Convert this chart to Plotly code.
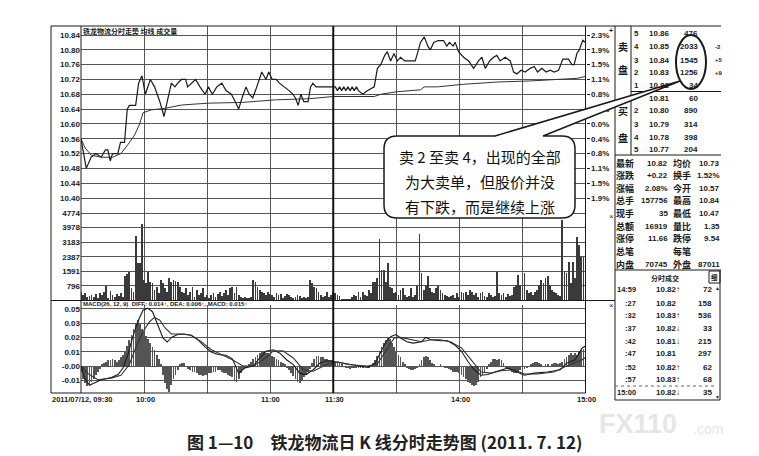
import plotly.graph_objects as go

W, H = 759, 456
NUM_FONT = "Liberation Sans, Arial, sans-serif"
CJK_FONT = "Noto Sans CJK SC, sans-serif"
INK = "#1a1a1a"
GRID = "#555555"

# ---------------- data ----------------
minutes = list(range(241))  # 0 = 09:30, 120 = 11:30/13:00, 240 = 15:00

price_min = [0, 2.5, 4.8, 7, 9.6, 11.6, 12.8, 13.9, 15, 17.5,
             18.8, 20.7, 22, 23, 26, 27.4, 29, 30.6, 33, 35,
             37.5, 39.5, 41, 43, 44.7, 46, 47.8, 49.8, 50.7, 52.6,
             54.5, 56.6, 59, 60.6, 62.5, 64.6, 67, 69, 71.5, 73.4,
             75, 76.6, 78.5, 80, 81.7, 83, 86, 88, 89.3, 91,
             92.8, 94.4, 97, 99, 100.8, 102, 103.3, 104.6, 106, 108,
             109.2, 110.3, 111.8, 120, 121, 122, 123, 124, 125, 126,
             127, 128, 129, 130, 131, 132, 134, 136.4, 139.5, 141,
             142.6, 144.5, 145.7, 147.3, 148.9, 150.5, 152, 154, 159, 160.3,
             161.5, 163.3, 165, 166.2, 167.8, 170, 172.5, 174, 175.3, 177,
             178, 179.6, 182, 184.4, 186.8, 189.1, 190.7, 192.3, 194.4, 196.3,
             197.8, 199.4, 201.8, 204.2, 205.8, 207.4, 209.3, 211.3, 213.7, 215.6,
             217.2, 219.2, 221.3, 223.2, 225.1, 227.2, 229.2, 231.9, 233.5, 234.6,
             235.9, 237.1, 238.7, 240]
price = [10.56, 10.48, 10.51, 10.52, 10.51, 10.53, 10.53, 10.50, 10.52, 10.52,
         10.55, 10.55, 10.64, 10.65, 10.65, 10.71, 10.73, 10.68, 10.72, 10.70,
         10.66, 10.62, 10.66, 10.71, 10.70, 10.71, 10.72, 10.72, 10.70, 10.71,
         10.72, 10.70, 10.68, 10.70, 10.68, 10.70, 10.71, 10.69, 10.68, 10.66,
         10.64, 10.67, 10.70, 10.68, 10.67, 10.69, 10.74, 10.72, 10.74, 10.72,
         10.72, 10.71, 10.70, 10.69, 10.68, 10.67, 10.65, 10.68, 10.66, 10.66,
         10.70, 10.71, 10.70, 10.70, 10.70, 10.69, 10.70, 10.69, 10.70, 10.69,
         10.70, 10.69, 10.70, 10.69, 10.70, 10.69, 10.68, 10.69, 10.70, 10.75,
         10.76, 10.785, 10.795, 10.77, 10.79, 10.77, 10.78, 10.77, 10.77, 10.795,
         10.82, 10.835, 10.81, 10.80, 10.82, 10.825, 10.825, 10.81, 10.82, 10.81,
         10.82, 10.795, 10.78, 10.77, 10.75, 10.77, 10.78, 10.75, 10.77, 10.78,
         10.785, 10.77, 10.78, 10.77, 10.74, 10.735, 10.745, 10.74, 10.75, 10.755,
         10.74, 10.75, 10.74, 10.745, 10.74, 10.745, 10.775, 10.775, 10.76, 10.76,
         10.79, 10.80, 10.826, 10.82]

avg_min = [0, 2, 5, 10, 15, 19, 22.3, 25.5, 27.9, 29.5, 33.5, 39.9, 47.8, 60.6, 76.6,
           92.5, 108.5, 120, 139.5, 142.6, 150.5, 161.5, 163.3, 169.6, 182, 197.8, 213.7,
           229.2, 235.9, 240]
avg_price = [10.56, 10.535, 10.515, 10.51, 10.51, 10.52, 10.544, 10.57, 10.60, 10.63, 10.638,
             10.642, 10.651, 10.656, 10.658, 10.665, 10.668, 10.674, 10.674, 10.68, 10.687,
             10.692, 10.70, 10.70, 10.707, 10.713, 10.716, 10.72, 10.723, 10.728]

volume = [505, 323, 414, 232, 287, 323, 214, 359, 178, 414,
          323, 505, 832, 142, 541, 323, 232, 359, 287, 414,
          232, 1377, 1450, 1558, 687, 505, 3557, 2049, 2049, 4229,
          1141, 959, 1595, 1050, 959, 596, 777, 414, 1141, 959,
          687, 505, 1232, 1050, 1141, 1086, 1050, 777, 505, 414,
          687, 323, 505, 777, 232, 596, 323, 414, 687, 232,
          323, 178, 323, 414, 232, 359, 505, 287, 414, 596,
          323, 687, 777, 414, 777, 323, 232, 178, 232, 142,
          178, 232, 1141, 1050, 777, 596, 505, 414, 323, 469,
          359, 323, 232, 414, 323, 359, 178, 287, 396, 323,
          232, 178, 214, 323, 287, 178, 214, 142, 232, 1141,
          959, 777, 687, 505, 323, 232, 287, 469, 232, 323,
          505, 414, 323, 287, 100, 80, 100, 90, 120, 232,
          323, 287, 505, 232, 505, 323, 287, 596, 414, 1050,
          1050, 1232, 3412, 1686, 1686, 1050, 2049, 777, 687, 414,
          505, 323, 596, 687, 323, 232, 287, 687, 232, 323,
          832, 3684, 1504, 596, 870, 1377, 687, 469, 414, 687,
          832, 596, 414, 323, 287, 232, 287, 323, 178, 414,
          232, 505, 414, 505, 323, 596, 505, 323, 414, 232,
          414, 505, 287, 232, 414, 323, 232, 287, 1595, 414,
          323, 414, 232, 359, 287, 323, 777, 870, 1414, 870,
          687, 1504, 596, 414, 505, 323, 505, 596, 870, 1141,
          959, 1232, 1377, 870, 596, 505, 414, 323, 287, 4411,
          1595, 1504, 2140, 1000, 2140, 1232, 3500, 3048, 2412, 2412, 1960]

macd_hist = [-0.004, -0.009, -0.012, -0.014, -0.013, -0.011, -0.009, -0.006, -0.004, -0.002,
             0.001, 0.002, 0.003, 0.004, 0.004, 0.005, 0.004, 0.003, 0.004, 0.006,
             0.008, 0.010, 0.014, 0.018, 0.022, 0.026, 0.030, 0.032, 0.030, 0.026,
             0.024, 0.021, 0.019, 0.016, 0.013, 0.011, 0.008, 0.005, 0.001, -0.006,
             -0.012, -0.016, -0.018, -0.013, -0.009, -0.006, -0.003, 0.001, 0.002, 0.002,
             0.000, -0.002, -0.003, -0.004, -0.004, -0.005, -0.006, -0.006, -0.007, -0.006,
             -0.006, -0.005, -0.005, -0.004, -0.004, -0.003, -0.003, -0.004, -0.005, -0.005,
             -0.006, -0.007, -0.008, -0.010, -0.011, -0.009, -0.005, -0.002, -0.001, 0.000,
             0.001, 0.003, 0.005, 0.006, 0.008, 0.009, 0.010, 0.010, 0.009, 0.009,
             0.008, 0.007, 0.006, 0.005, 0.004, 0.003, 0.002, 0.001, -0.001, -0.003,
             -0.005, -0.007, -0.009, -0.011, -0.012, -0.010, -0.008, -0.006, -0.004, -0.002,
             0.002, 0.005, 0.007, 0.007, 0.006, 0.006, 0.005, 0.005, 0.004, 0.004,
             0.004, 0.003, 0.003, 0.002, 0.001, 0.000, -0.001, -0.001, -0.002, -0.001,
             -0.001, -0.001, -0.001, -0.001, -0.001, 0.000, 0.000, -0.001, 0.000, 0.002,
             0.004, 0.007, 0.010, 0.013, 0.016, 0.018, 0.020, 0.019, 0.016, 0.013,
             0.010, 0.008, 0.006, 0.003, 0.001, -0.001, -0.002, -0.003, -0.003, -0.002,
             -0.001, 0.001, 0.004, 0.006, 0.007, 0.006, 0.004, 0.002, 0.001, 0.000,
             0.000, 0.001, 0.000, -0.001, -0.001, -0.002, -0.003, -0.004, -0.004, -0.004,
             -0.005, -0.006, -0.008, -0.009, -0.011, -0.012, -0.013, -0.014, -0.013, -0.011,
             -0.008, -0.006, -0.004, -0.002, 0.001, 0.003, 0.005, 0.005, 0.004, 0.005,
             0.004, 0.002, -0.001, -0.002, -0.003, -0.004, -0.005, -0.005, -0.004, -0.003,
             -0.003, -0.002, -0.001, 0.000, 0.001, 0.002, 0.003, 0.003, 0.002, 0.001,
             0.000, 0.001, 0.001, 0.000, 0.001, 0.002, 0.002, 0.001, 0.002, 0.003,
             0.005, 0.006, 0.008, 0.009, 0.008, 0.009, 0.008, 0.010, 0.011, 0.012, 0.015]

diff_min = [0, 1.7, 4, 6.5, 9.7, 14.4, 17.6, 20, 22.3, 24.7, 27, 29.5, 31.8, 34, 36.6, 39, 41, 43,
            46, 49, 52.4, 55.6, 58.7, 62, 65, 69, 72, 75, 77.9, 82, 85, 88, 91.4, 94.6, 97.8,
            101, 104, 107, 110.5, 113.6, 116.8, 122, 127, 133, 136.4, 140, 142.7, 145, 147.5,
            149.8, 152, 155, 158, 162, 164, 166.5, 171, 174.4, 177.6, 181, 184, 187, 190.3,
            193.5, 198, 203, 206, 210.9, 215.6, 222, 228, 231, 235, 238.4, 240]
diff_val = [0.0, -0.008, -0.0135, -0.012, -0.0096, -0.008, -0.006, -0.0014, 0.008, 0.0207,
            0.031, 0.039, 0.0405, 0.038, 0.029, 0.0196, 0.0168, 0.020, 0.022, 0.0224, 0.0215,
            0.0184, 0.0137, 0.0098, 0.008, 0.0075, 0.005, -0.005, -0.0014, 0.0, 0.0056, 0.0103,
            0.0114, 0.009, 0.0044, 0.001, -0.005, -0.006, -0.0026, 0.002, 0.0037, 0.0028, 0.0014,
            -0.0002, -0.001, 0.002, 0.0103, 0.017, 0.0207, 0.022, 0.0196, 0.017, 0.016, 0.017,
            0.020, 0.0184, 0.0177, 0.0177, 0.0149, 0.0103, 0.0033, -0.0026, -0.0065, -0.006,
            -0.0037, -0.0014, -0.0033, -0.0065, -0.005, -0.0042, -0.0026, 0.002, 0.0044, 0.0126,
            0.014]

dea_min = [0, 3, 8, 14.4, 19, 23, 26, 29.5, 32.6, 35, 37.5, 40, 43, 47.6, 52.4, 57, 62, 66.6,
           72, 77, 82, 86.7, 91.4, 96, 101, 105.7, 110.5, 116.8, 122, 127, 136, 140.8, 145, 149,
           152, 157, 162, 166.5, 171, 176, 181, 185.5, 190.3, 195, 199.8, 206, 211, 217, 225,
           231, 238.4, 240]
dea_val = [0.0, -0.005, -0.0096, -0.0085, -0.0065, 0.001, 0.0126, 0.024, 0.031, 0.034, 0.032,
           0.0266, 0.0224, 0.0224, 0.0215, 0.0172, 0.0114, 0.008, 0.0044, 0.0, 0.0, 0.0044,
           0.0105, 0.0107, 0.0056, -0.0026, -0.0037, 0.001, 0.0028, 0.001, 0.0, 0.001, 0.0103,
           0.0196, 0.020, 0.0184, 0.017, 0.0184, 0.0184, 0.0168, 0.0126, 0.0044, -0.0042,
           -0.005, -0.0033, -0.0026, -0.0056, -0.0056, -0.0042, 0.0, 0.0044, 0.006]

grid_minutes = [30, 60, 90, 120, 150, 180, 210]
time_labels = ["2011/07/12, 09:30", "10:00", "11:00", "11:30", "14:00", "15:00"]

price_ticks = [10.40, 10.44, 10.48, 10.52, 10.56, 10.60, 10.64, 10.68, 10.72, 10.76, 10.80, 10.84]
pct_labels = ["1.9%", "1.5%", "1.1%", "0.8%", "0.4%", "0.0%", "0.4%", "0.8%", "1.1%", "1.5%", "1.9%", "2.3%"]
vol_ticks = [796, 1591, 2387, 3183, 3978, 4774]
macd_ticks = [-0.01, 0.0, 0.01, 0.02, 0.03, 0.04]
macd_labels = ["-0.01", "-0.00", "0.01", "0.02", "0.03", "0.05"]

ask_levels = ["5", "4", "3", "2", "1"]
ask_prices = [10.86, 10.85, 10.84, 10.83, 10.82]
ask_vols = [476, 2033, 1545, 1256, 34]
ask_changes = ["", "-2", "+5", "+9", ""]
bid_levels = ["", "2", "3", "4", "5"]
bid_prices = [10.81, 10.80, 10.79, 10.78, 10.77]
bid_vols = [60, 890, 314, 398, 204]

stat_names_l = ["最新", "涨跌", "涨幅", "总手", "现手", "总额", "涨停", "总笔", "内盘"]
stat_vals_l = ["10.82", "+0.22", "2.08%", "157756", "35", "16919", "11.66", "", "70745"]
stat_names_r = ["均价", "换手", "今开", "最高", "最低", "量比", "跌停", "每笔", "外盘"]
stat_vals_r = ["10.73", "1.52%", "10.57", "10.84", "10.47", "1.35", "9.54", "", "87011"]

tick_times = ["14:59", ":27", ":32", ":37", ":42", ":47", ":52", ":57", "15:00"]
tick_prices = [10.82, 10.82, 10.83, 10.82, 10.81, 10.81, 10.82, 10.83, 10.82]
tick_dirs = ["↑", "", "↑", "↓", "↓", "", "↑", "↑", "↓"]
tick_vols = [72, 158, 536, 33, 215, 297, 62, 68, 35]

callout_lines = ["卖 2 至卖 4，出现的全部", "为大卖单，但股价并没", "有下跌，而是继续上涨"]
caption = "图 1—10\u3000铁龙物流日 K 线分时走势图 (2011. 7. 12)"


def px(x):
    return x / W


def py(y):
    return 1 - y / H


annotations = []
shapes = []


def label(x, y, text, size=8, align="left", family=NUM_FONT, weight="bold", color=INK):
    annotations.append(dict(x=px(x), y=py(y), xref="paper", yref="paper", text=text,
                            showarrow=False, xanchor=align, yanchor="middle", borderpad=0,
                            font=dict(family=family, size=size, color=color, weight=weight)))


def seg(x0, y0, x1, y1, width=1, color=INK, dash="solid"):
    shapes.append(dict(type="line", xref="paper", yref="paper",
                       x0=px(x0), y0=py(y0), x1=px(x1), y1=py(y1),
                       line=dict(color=color, width=width, dash=dash)))


# ---------------- traces ----------------
fig = go.Figure()
fig.add_trace(go.Scatter(x=price_min, y=price, mode="lines", line=dict(color=INK, width=1.2),
                         xaxis="x", yaxis="y", hoverinfo="skip"))
fig.add_trace(go.Scatter(x=avg_min, y=avg_price, mode="lines", line=dict(color="#333", width=1),
                         xaxis="x", yaxis="y4", hoverinfo="skip"))
fig.add_trace(go.Bar(x=minutes, y=volume, width=0.38, marker=dict(color="#3a3a3a", line=dict(width=0)),
                     xaxis="x2", yaxis="y2", hoverinfo="skip"))
fig.add_trace(go.Bar(x=minutes, y=macd_hist, width=0.38, marker=dict(color="#555", line=dict(width=0)),
                     xaxis="x3", yaxis="y3", hoverinfo="skip"))
fig.add_trace(go.Scatter(x=diff_min, y=diff_val, mode="lines", line=dict(color=INK, width=1.1),
                         xaxis="x3", yaxis="y3", hoverinfo="skip"))
fig.add_trace(go.Scatter(x=dea_min, y=dea_val, mode="lines", line=dict(color="#333", width=1.1),
                         xaxis="x3", yaxis="y3", hoverinfo="skip"))

# ---------------- axes ----------------
tick_font = dict(family=NUM_FONT, size=8, color=INK, weight="bold")
x_dom = [px(73), px(577.5)]
xcommon = dict(domain=x_dom, range=[0, 240], tickvals=grid_minutes, showticklabels=False,
               showgrid=True, gridcolor=GRID, gridwidth=1, zeroline=False, ticks="")
ycommon = dict(showgrid=True, gridcolor=GRID, gridwidth=1, zeroline=False, ticks="",
               tickfont=tick_font, showline=False)

fig.update_layout(
    xaxis=dict(anchor="y", **xcommon),
    xaxis2=dict(anchor="y2", matches="x", **xcommon),
    xaxis3=dict(anchor="y3", matches="x", **xcommon),
    yaxis=dict(anchor="x", domain=[py(197.5), py(18)], range=[10.3798, 10.8643],
               tickvals=price_ticks, tickformat=".2f", **ycommon),
    yaxis4=dict(anchor="x", overlaying="y", side="right", range=[10.3798, 10.8643],
                tickvals=price_ticks, ticktext=pct_labels, showgrid=False, zeroline=False,
                ticks="outside", ticklen=3, tickcolor=INK, tickfont=tick_font),
    yaxis2=dict(anchor="x2", domain=[py(292.5), py(197.5)], range=[0, 5187],
                tickvals=vol_ticks, tickformat="d", **ycommon),
    yaxis3=dict(anchor="x3", domain=[py(385), py(297)], range=[-0.0189, 0.0427],
                tickvals=macd_ticks, ticktext=macd_labels, **ycommon),
)

# ---------------- frame lines ----------------
seg(43, 18, 713, 18)
seg(43, 18, 43, 385)
seg(43, 385, 577.5, 385)
seg(73, 18, 73, 385)
seg(577.5, 18, 577.5, 385)
seg(607, 18, 607, 392)
seg(43, 292.5, 607, 292.5)
seg(623, 18, 623, 147)
seg(623, 83.5, 713, 83.5)
seg(607, 147, 713, 147)
seg(607, 262, 713, 262)
seg(712, 262, 712, 392)
seg(607, 392, 712, 392)
seg(607, 378, 706, 378, width=1, color="#666", dash="dot")
shapes.append(dict(type="rect", xref="paper", yref="paper", x0=px(701), x1=px(712),
                   y0=py(275), y1=py(263), line=dict(color=INK, width=1)))
shapes.append(dict(type="line", xref="x", yref="paper", x0=120, x1=120, y0=py(385), y1=py(18),
                   line=dict(color="#111", width=2)))

# callout bubble with its tail
pts = [("M", 389, 128), ("L", 487, 128), ("L", 672, 73), ("L", 535, 128), ("L", 554, 128)]
path = " ".join(f"{c} {px(x):.5f},{py(y):.5f}" for c, x, y in pts)
path += f" Q {px(567):.5f},{py(128):.5f} {px(567):.5f},{py(141):.5f}"
path += f" L {px(567):.5f},{py(197):.5f}"
path += f" Q {px(567):.5f},{py(210):.5f} {px(554):.5f},{py(210):.5f}"
path += f" L {px(389):.5f},{py(210):.5f}"
path += f" Q {px(376):.5f},{py(210):.5f} {px(376):.5f},{py(197):.5f}"
path += f" L {px(376):.5f},{py(141):.5f}"
path += f" Q {px(376):.5f},{py(128):.5f} {px(389):.5f},{py(128):.5f} Z"
shapes.append(dict(type="path", xref="paper", yref="paper", path=path, fillcolor="white",
                   line=dict(color=INK, width=1.5), layer="above"))
shapes.append(dict(type="circle", xref="paper", yref="paper", x0=px(668), x1=px(698),
                   y0=py(81), y1=py(27), line=dict(color=INK, width=2)))

# ---------------- texts ----------------
label(74, 23, "铁龙物流分时走势 均线 成交量", size=7, family=CJK_FONT)
label(74, 295.5, "MACD(26, 12, 9)  DIFF: 0.014↑, DEA: 0.006↑, MACD: 0.015↑", size=6)

x_pos = [43, 137, 262, 326, 452, 578]
for i, txt in enumerate(time_labels):
    label(x_pos[i], 391, txt, size=7.5, align="left" if i == 0 else "center")

label(603, 22, "+", size=7, align="center")
label(603, 209, "×", size=8, align="center", weight="normal")
label(603, 297, "×", size=8, align="center", weight="normal")

ask_y = [25.5, 39, 52.5, 64.5, 77]
bid_y = [90, 103, 116, 129, 141]
label(615, 38, "卖", size=10, align="center", family=CJK_FONT)
label(615, 62, "盘", size=10, align="center", family=CJK_FONT)
label(615, 103, "买", size=10, align="center", family=CJK_FONT)
label(615, 129, "盘", size=10, align="center", family=CJK_FONT)
for lv, p, v, ch, y in zip(ask_levels, ask_prices, ask_vols, ask_changes, ask_y):
    label(625, y, lv)
    label(651, y, f"{p:.2f}", align="center")
    label(691, y, str(v), align="right")
    if ch:
        label(706, y, ch, size=6)
for lv, p, v, y in zip(bid_levels, bid_prices, bid_vols, bid_y):
    if lv:
        label(625, y, lv)
    label(651, y, f"{p:.2f}", align="center")
    label(691, y, str(v), align="right")

stat_y = [155, 167.5, 180, 192.7, 205.5, 218, 231, 243.5, 256.5]
for nl, vl, nr, vr, y in zip(stat_names_l, stat_vals_l, stat_names_r, stat_vals_r, stat_y):
    label(607, y, nl, size=9, family=CJK_FONT)
    label(661, y, vl, align="right")
    label(664, y, nr, size=9, family=CJK_FONT)
    label(713, y, vr, align="right")

label(657, 270, "分时成交", size=7, align="center", family=CJK_FONT)
label(706.5, 269, "细", size=6.5, align="center", family=CJK_FONT)
label(709.5, 280, "▲", size=5, align="center")
label(709.5, 389, "▼", size=5, align="center")
tick_y = [281.7, 295, 307.3, 320, 333.3, 345.7, 359, 371.7, 384]
for tm, p, d, v, y in zip(tick_times, tick_prices, tick_dirs, tick_vols, tick_y):
    label(629, y, tm, size=7.5, align="right")
    label(647, y, f"{p:.2f}{d}")
    label(705, y, str(v), align="right")

for txt, y in zip(callout_lines, [149, 173.5, 198]):
    label(472, y, txt, size=15, align="center", family=CJK_FONT, weight="normal", color="#111")

label(376, 433, caption, size=17, align="center", family=CJK_FONT, color="#222")
label(590, 416, "FX110", size=27, family=NUM_FONT, color="#e6e6e6")
label(684, 421, ".com", size=14, family=NUM_FONT, weight="normal", color="#e6e6e6")

fig.update_layout(
    width=W, height=H, margin=dict(l=0, r=0, t=0, b=0),
    paper_bgcolor="white", plot_bgcolor="white", showlegend=False,
    bargap=0, shapes=shapes, annotations=annotations,
    font=dict(family=NUM_FONT, color=INK),
)

fig.write_html("out.html")
